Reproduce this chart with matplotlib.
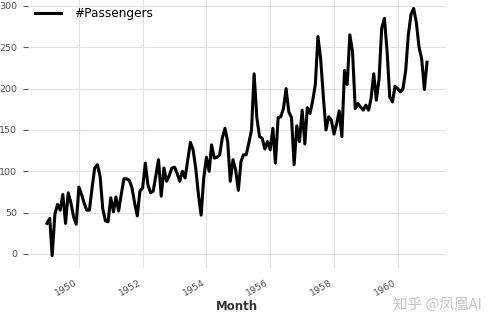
import numpy as np
import pandas as pd
import matplotlib
matplotlib.use("Agg")
import matplotlib.pyplot as plt
import matplotlib.dates as mdates
from matplotlib.ticker import MultipleLocator

# monthly values, Jan 1949 - Dec 1960
passengers = [
    37, 43, -2, 48, 60, 53, 72, 37, 74, 62, 45, 36,          # 1949
    81, 72, 62, 53, 53, 80, 104, 108, 94, 55, 40, 39,        # 1950
    68, 51, 69, 52, 72, 91, 91, 89, 80, 62, 46, 76,          # 1951
    80, 110, 84, 74, 76, 95, 114, 70, 104, 88, 95, 104,      # 1952
    105, 97, 88, 100, 92, 114, 135, 126, 103, 72, 47, 92,    # 1953
    117, 100, 132, 116, 117, 120, 140, 152, 136, 88, 114, 102,  # 1954
    77, 112, 120, 120, 134, 150, 218, 165, 142, 140, 127, 136,  # 1955
    126, 152, 110, 165, 166, 176, 200, 172, 165, 108, 155, 136,  # 1956
    174, 133, 177, 170, 185, 205, 263, 236, 190, 150, 166, 162,  # 1957
    145, 158, 173, 142, 222, 205, 265, 245, 176, 182, 178, 174,  # 1958
    180, 174, 188, 218, 186, 212, 273, 285, 245, 190, 184, 203,  # 1959
    200, 196, 200, 222, 265, 290, 297, 280, 250, 236, 199, 232,  # 1960
]
months = pd.date_range("1949-01-01", periods=len(passengers), freq="MS")
series_label = "#Passengers"
x_label = "Month"

fig = plt.figure(figsize=(4.96, 3.27), dpi=100)
ax = fig.add_axes([0.0565, 0.1804, 0.8427, 0.8315])

ax.plot(months, passengers, color="black", lw=2.2, solid_joinstyle="round",
        label=series_label)

for s in ax.spines.values():
    s.set_visible(False)
ax.grid(True, color="#e2e2e2", lw=0.8)
ax.set_axisbelow(True)

ax.xaxis.set_major_locator(mdates.YearLocator(2))
ax.xaxis.set_major_formatter(mdates.DateFormatter("%Y"))
ax.yaxis.set_major_locator(MultipleLocator(50))

ax.tick_params(axis="x", bottom=False, labelsize=6.8, labelcolor="#505050", pad=3.5)
ax.tick_params(axis="y", length=3.5, color="#555555", labelsize=6.8,
               labelcolor="#505050", pad=4.5)
for lab in ax.get_xticklabels():
    lab.set_rotation(30)
    lab.set_ha("right")

ax.set_xlabel(x_label, fontsize=8.5, fontweight="bold", color="#333333", labelpad=2)

ax.legend(loc="upper left", bbox_to_anchor=(0.055, 1.0), bbox_transform=fig.transFigure,
          frameon=False, fontsize=8.7, handlelength=2.2, handletextpad=1.1,
          borderaxespad=0.2)

fig.text(0.882, 0.068, "知乎 @凤凰AI", ha="center", va="center", fontsize=10.5,
         color="#c4c4c4", family=["Noto Sans CJK SC", "DejaVu Sans"])

fig.savefig("out.png", dpi=100)
